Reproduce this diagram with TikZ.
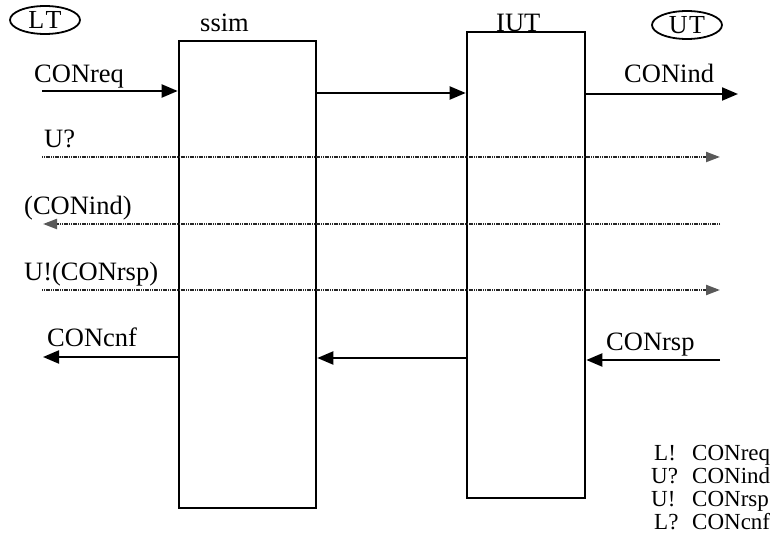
\documentclass[tikz,border=0pt]{standalone}
\usepackage{fontspec}
\setmainfont{Liberation Serif}
\usetikzlibrary{arrows.meta,shapes.geometric}

\begin{document}
\begin{tikzpicture}[x=1pt,y=-1pt,
  box/.style={draw,line width=2.6pt,inner sep=0pt},
  tester/.style={draw,ellipse,line width=1.8pt,inner sep=0pt,
    minimum width=70pt,minimum height=28pt,font=\fontsize{26}{26}\selectfont},
  lbl/.style={inner sep=0pt,anchor=base west,font=\fontsize{26.5}{26.5}\selectfont},
  legend/.style={inner sep=0pt,anchor=base west,font=\fontsize{23}{23}\selectfont},
  sig/.style={line width=2pt,-{Triangle[length=16pt,width=13pt]}},
  obs/.style={line width=2.2pt,black!85,dash pattern=on 1.2pt off 0.6pt,
    -{Triangle[length=14pt,width=10pt,color=black!65,fill=black!65]}}]

\useasboundingbox (0,0) rectangle (782,545);

% the two processes
\node[box,minimum width=137pt,minimum height=467pt] (ssim) at (247.5,274.5) {};
\node[box,minimum width=118pt,minimum height=466pt] (iut) at (526,265) {};
\node[lbl] (ssimlbl) at (200,32) {ssim};
\node[lbl] (iutlbl) at (496,32) {IUT};

% lower and upper testers
\node[tester] (lt) at (45,20) {L\kern1.5pt T};
\node[tester] (ut) at (687,25) {U\kern1.5pt T};

% end points of the signal lines
\coordinate (reqin) at (42,91);
\coordinate (pass1) at (0,93);
\coordinate (indout) at (738,94);
\coordinate (uqL) at (42,157);
\coordinate (uqR) at (720,157);
\coordinate (indR) at (720,224);
\coordinate (indL) at (43,224);
\coordinate (urL) at (42,290);
\coordinate (urR) at (720,290);
\coordinate (cnfout) at (43,357);
\coordinate (pass2) at (0,358);
\coordinate (rspin) at (720,360);

% service primitives
\draw[sig] (reqin) -- (reqin -| ssim.west);
\draw[sig] (ssim.east |- pass1) -- (iut.west |- pass1);
\draw[sig] (iut.east |- indout) -- (indout);
\draw[sig] (ssim.west |- cnfout) -- (cnfout);
\draw[sig] (iut.west |- pass2) -- (ssim.east |- pass2);
\draw[sig] (rspin) -- (iut.east |- rspin);

% observed events
\draw[obs] (uqL) -- (uqR);
\draw[obs] (indR) -- (indL);
\draw[obs] (urL) -- (urR);

% labels
\node[lbl] (lreq) at (34,83) {CONreq};
\node[lbl] (luq) at (44,148) {U?};
\node[lbl] (lind) at (24,215) {(CONind)};
\node[lbl] (lur) at (24,281) {U!(CONrsp)};
\node[lbl] (lcnf) at (47,347) {CONcnf};
\node[lbl] (rind) at (624,83) {CONind};
\node[lbl] (rrsp) at (606,351) {CONrsp};

% legend
\node[legend] (k1a) at (654,460) {L!};
\node[legend] (k1b) at (692,460) {CONreq};
\node[legend] (k2a) at (651,483) {U?};
\node[legend] (k2b) at (692,483) {CONind};
\node[legend] (k3a) at (651,506) {U!};
\node[legend] (k3b) at (692,506) {CONrsp};
\node[legend] (k4a) at (654,529) {L?};
\node[legend] (k4b) at (692,529) {CONcnf};
\end{tikzpicture}
\end{document}
